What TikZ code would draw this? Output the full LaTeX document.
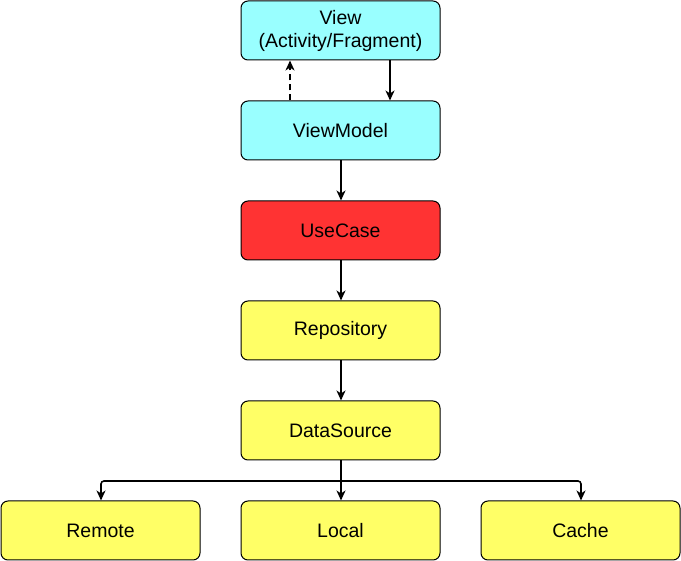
\documentclass[tikz,border=0pt]{standalone}
\usepackage{fontspec}
\setmainfont{Liberation Sans}
\usetikzlibrary{arrows.meta}
\definecolor{cyanbox}{HTML}{99FFFF}
\definecolor{redbox}{HTML}{FF3333}
\definecolor{yelbox}{HTML}{FFFF66}
\begin{document}
\begin{tikzpicture}[x=1pt,y=-1pt,
  box/.style={draw=black,line width=1pt,rounded corners=7pt,minimum width=199pt,minimum height=59pt,inner sep=0pt,align=center,font=\fontsize{19.5}{23}\selectfont},
  conn/.style={line width=1.6pt,-{Stealth[length=10pt,width=9pt,inset=3pt]}}]
\useasboundingbox (0,0) rectangle (681,561);
\node[box,fill=cyanbox] (view) at (340.5,30.5) {View\\(Activity/Fragment)};
\node[box,fill=cyanbox] (vm) at (340.5,130.5) {ViewModel};
\node[box,fill=redbox] (uc) at (340.5,230.5) {UseCase};
\node[box,fill=yelbox] (repo) at (340.5,330.5) {Repository};
\node[box,fill=yelbox] (ds) at (340.5,430.5) {DataSource};
\node[box,fill=yelbox] (remote) at (100.5,530.5) {Remote};
\node[box,fill=yelbox] (local) at (340.5,530.5) {Local};
\node[box,fill=yelbox] (cache) at (580.5,530.5) {Cache};
\coordinate (bus) at (341,481);
\draw[conn,dash pattern=on 6pt off 4pt] (vm.north -| 290,0) -- (view.south -| 290,0);
\draw[conn] (view.south -| 390,0) -- (vm.north -| 390,0);
\draw[conn] (vm.south -| bus) -- (uc.north -| bus);
\draw[conn] (uc.south -| bus) -- (repo.north -| bus);
\draw[conn] (repo.south -| bus) -- (ds.north -| bus);
\draw[conn] (ds.south -| bus) -- (local.north -| bus);
\draw[conn,rounded corners=3pt] (bus) -| ([xshift=0.5pt]remote.north);
\draw[conn,rounded corners=3pt] (bus) -| ([xshift=0.5pt]cache.north);
\end{tikzpicture}
\end{document}
